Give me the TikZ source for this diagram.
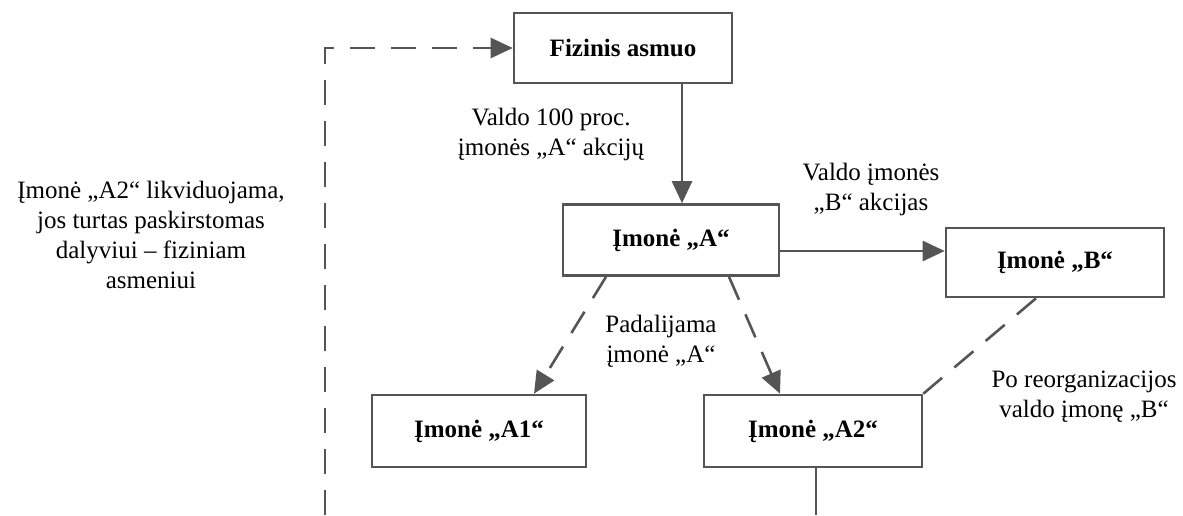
\documentclass[tikz,border=0pt]{standalone}
\usepackage{fontspec}
\setmainfont{Liberation Serif}
\usetikzlibrary{arrows.meta}
\definecolor{ln}{HTML}{555555}
\tikzset{
  box/.style={draw=ln, line width=2.6pt, fill=white, minimum width=218pt, minimum height=70pt, inner sep=0pt,
    font=\fontsize{25}{30}\selectfont\bfseries},
  lbl/.style={inner sep=0pt, align=center, font=\fontsize{25}{30}\selectfont},
  conn/.style={draw=ln, line width=2.6pt},
  arr/.style={conn, -{Triangle[length=22pt,width=20pt]}},
  dsh/.style={dash pattern=on 25pt off 16pt}
}
\begin{document}
\begin{tikzpicture}[x=1pt,y=-1pt]
\useasboundingbox (0,0) rectangle (1183,515);
\node[box] (fiz) at (623,48) {Fizinis asmuo};
\node[box, minimum width=216pt, minimum height=71pt] (a) at (671,240) {Įmonė „A“};
\node[box, minimum height=69pt] (b) at (1055,262.5) {Įmonė „B“};
\node[box, minimum width=214pt, minimum height=72pt] (a1) at (479,431) {Įmonė „A1“};
\node[box, minimum height=72pt] (a2) at (813,431) {Įmonė „A2“};
\coordinate (bl) at (325,515);
\coordinate (br) at (816,515);
\node[lbl] (t1) at (551,134) {Valdo 100 proc.\\įmonės „A“ akcijų};
\node[lbl] (t2) at (871,189) {Valdo įmonės\\„B“ akcijas};
\node[lbl] (t3) at (661,341) {Padalijama\\įmonė „A“};
\node[lbl] (t4) at (1084,397) {Po reorganizacijos\\valdo įmonę „B“};
\node[lbl] (t5) at (151,234.5) {Įmonė „A2“ likviduojama,\\jos turtas paskirstomas\\dalyviui – fiziniam\\asmeniui};
\draw[arr] ([xshift=59pt]fiz.south) -- ([xshift=11pt]a.north);
\draw[arr] ([yshift=-11pt]a.east) -- ([yshift=-11pt]a.east -| b.west);
\draw[arr, dsh] ([xshift=-65pt]a.south) -- ([xshift=55pt]a1.north);
\draw[arr, dsh] ([xshift=58pt]a.south) -- ([xshift=-33pt]a2.north);
\draw[conn, dsh] ([xshift=-19pt]b.south) -- (a2.north east);
\draw[conn] ([xshift=3pt]a2.south) -- (br);
\draw[arr, dsh] (bl) |- (fiz.west);
\end{tikzpicture}
\end{document}
